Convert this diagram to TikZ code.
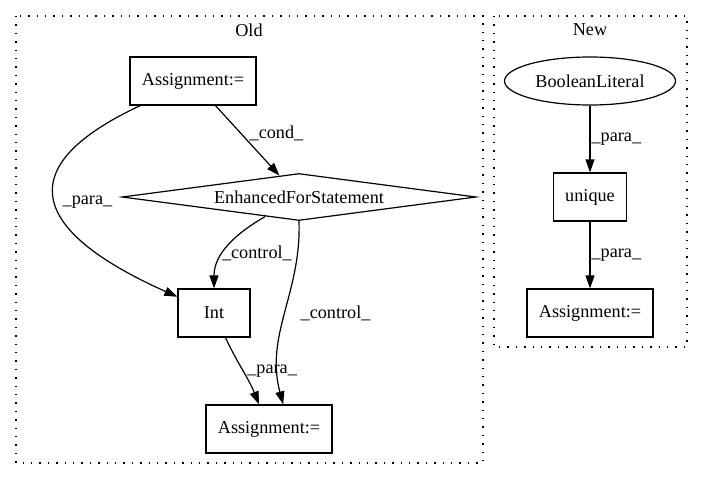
\documentclass[tikz,border=0pt]{standalone}
\usepackage{fontspec}
\setmainfont{Liberation Serif}
\usetikzlibrary{shapes.geometric,arrows.meta}

\begin{document}
\begin{tikzpicture}[x=1pt, y=-1pt,
        font=\fontsize{18.2}{22}\selectfont,
        every node/.style={inner sep=0pt},
        box/.style={draw, line width=1.2pt, minimum height=48pt},
        cluster/.style={line width=1.4pt, dash pattern=on 1.4pt off 7pt},
        edge/.style={line width=1.2pt, -{Triangle[length=13pt, width=9pt]}},
        lbl/.style={right, inner sep=1pt}]
        \useasboundingbox (0,0) rectangle (703,480);

        % Old cluster
        \draw[cluster] (16,16) rectangle (483,463);
        \node (old) at (249,30) {Old};
        \node[box, minimum width=126pt] (asgA) at (193,81) {Assignment:=};
        \node[draw, diamond, line width=1.2pt, aspect=7.5, minimum width=354pt, minimum height=47pt] (efs) at (299,197) {EnhancedForStatement};
        \node[box, minimum width=72pt] (int) at (214,313) {Int};
        \node[box, minimum width=126pt] (asgB) at (269,429) {Assignment:=};

        \draw[edge] (asgA) to[out=205, in=156, looseness=2] node[lbl, pos=0.5, xshift=6pt] {\_para\_} (int);
        \draw[edge] (asgA) -- node[lbl, pos=0.4, xshift=7pt] {\_cond\_} (efs);
        \draw[edge] (efs) to[out=210, in=90] node[lbl, pos=0.6, xshift=-3pt] {\_control\_} (int);
        \draw[edge] (efs.south) to[out=-88, in=105] node[lbl, xshift=14pt] {\_control\_} (asgB.60);
        \draw[edge] (int) to[out=-65, in=112] node[lbl, xshift=3pt] {\_para\_} (asgB);

        % New cluster
        \draw[cluster] (494,16) rectangle (687,347);
        \node (new) at (590,30) {New};
        \node[draw, ellipse, line width=1.2pt, minimum width=171pt, minimum height=48pt] (bool) at (590,81) {BooleanLiteral};
        \node[box, minimum width=73pt] (uniq) at (590,197) {unique};
        \node[box, minimum width=126pt] (asgC) at (590,313) {Assignment:=};

        \draw[edge] (bool) -- node[lbl] {\_para\_} (uniq);
        \draw[edge] (uniq) -- node[lbl] {\_para\_} (asgC);

    \end{tikzpicture}
\end{document}
